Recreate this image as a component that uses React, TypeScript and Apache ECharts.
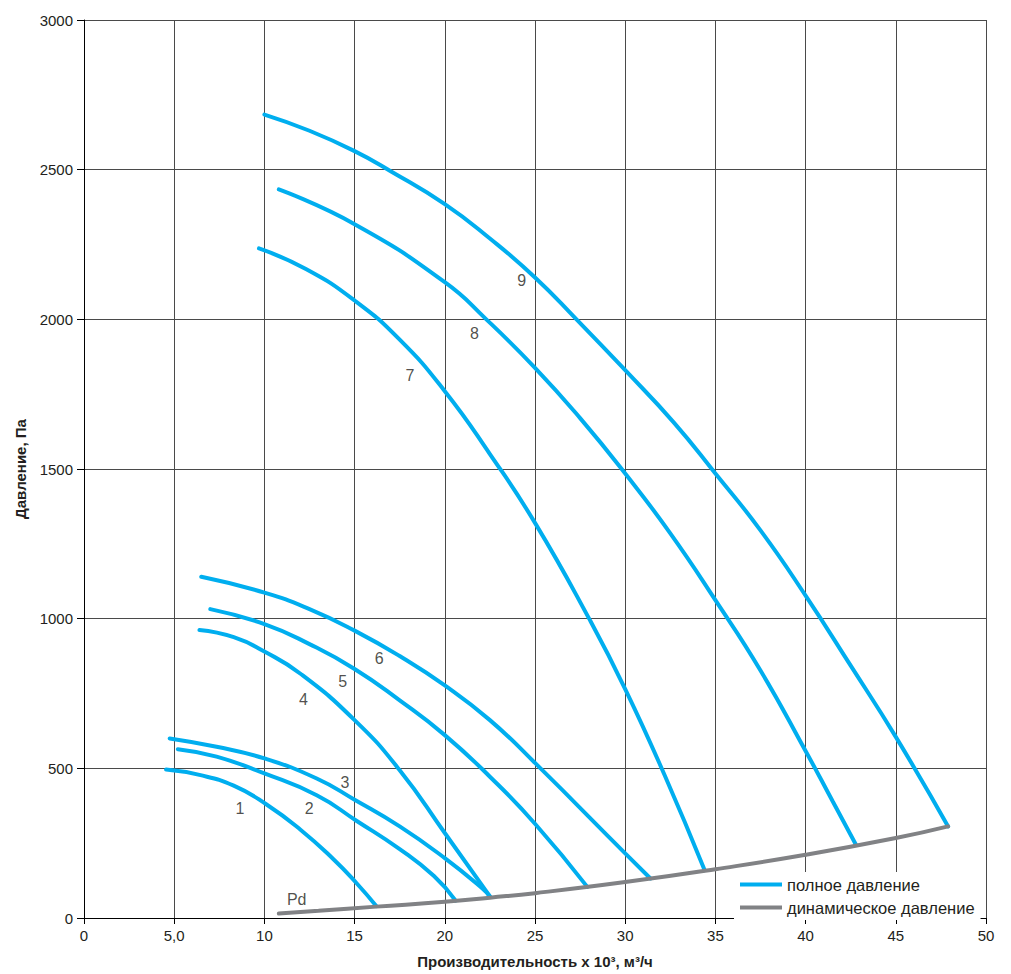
import React, { useEffect, useRef } from "react";
import * as echarts from "echarts";

// x: thousand m³/h, y: Pa
const curve1 = [[4.55, 496], [6.4, 478], [8.3, 442], [10.1, 380], [12.0, 295], [13.8, 198], [15.1, 117], [16.2, 40]];
const curve2 = [[5.2, 564], [7.35, 539], [10.0, 483], [12.9, 410], [15.1, 325], [17.5, 230], [19.4, 140], [20.6, 58]];
const curve3 = [[4.75, 600], [7.35, 572], [10.0, 533], [12.9, 466], [15.0, 395], [17.5, 306], [20.0, 200], [22.1, 98], [22.5, 72]];
const curve4 = [[6.4, 962], [8.3, 938], [10.0, 890], [12.0, 816], [15.0, 661], [17.5, 494], [20.0, 284], [22.5, 72]];
const curve5 = [[7.0, 1032], [10.0, 982], [12.5, 915], [15.0, 832], [17.5, 727], [20.0, 611], [22.5, 472], [25.0, 315], [27.9, 104]];
const curve6 = [[6.5, 1140], [10.0, 1087], [12.5, 1032], [15.0, 960], [17.5, 875], [20.0, 777], [22.5, 661], [25.0, 518], [30.0, 216], [31.4, 132]];
const curve7 = [[9.7, 2237], [12.3, 2168], [15.0, 2063], [17.5, 1932], [20.0, 1760], [22.5, 1550], [25.0, 1320], [28.0, 1000], [30.0, 765], [32.2, 475], [34.4, 160]];
const curve8 = [[10.8, 2434], [15.0, 2318], [20.0, 2124], [22.3, 2000], [25.0, 1838], [27.5, 1670], [30.0, 1485], [32.5, 1285], [35.0, 1062], [37.5, 827], [40.0, 558], [41.5, 390], [42.8, 244]];
const curve9 = [[10.0, 2684], [12.5, 2630], [15.0, 2562], [17.0, 2495], [20.0, 2385], [22.5, 2270], [25.0, 2140], [27.3, 2000], [30.0, 1830], [32.7, 1655], [35.0, 1485], [37.5, 1295], [40.0, 1077], [42.5, 843], [45.0, 605], [47.9, 306]];
const curvePd = [[10.8, 15], [13.0, 24], [16.2, 38], [20.0, 54], [22.5, 68], [25.0, 83], [30.0, 120], [35.0, 163], [40.0, 211], [45.0, 267], [47.9, 306]];

const fullCurves = [curve1, curve2, curve3, curve4, curve5, curve6, curve7, curve8, curve9];

const labelNames = ["1", "2", "3", "4", "5", "6", "7", "8", "9", "Pd"];
const labelX = [8.65, 12.49, 14.47, 12.16, 14.34, 16.37, 18.07, 21.64, 24.26, 11.79];
const labelY = [365, 365, 453, 729, 791, 868, 1811, 1952, 2129, 62];

const xTicks = { min: 0, max: 50, interval: 5 };
const yTicks = { min: 0, max: 3000, interval: 500 };

const seriesFullName = "полное давление";
const seriesDynName = "динамическое давление";
const xName = "Производительность x 10³, м³/ч";
const yName = "Давление, Па";

const BLUE = "#00aeef";
const GRAY = "#818285";
const TEXT = "#231f20";
const FONT = "'Liberation Sans', Arial, sans-serif";

export default function App() {
  const ref = useRef<HTMLDivElement>(null);
  useEffect(() => {
    document.body.style.margin = "0";
    if (!ref.current) return;
    const chart = echarts.init(ref.current, null, { renderer: "svg" });
    const series: any[] = fullCurves.map((c) => ({
      name: seriesFullName,
      type: "line",
      data: c,
      smooth: 0.5,
      symbol: "none",
      lineStyle: { color: BLUE, width: 4, cap: "round" },
      itemStyle: { color: BLUE },
      z: 3,
    }));
    series.push({
      name: seriesDynName,
      type: "line",
      data: curvePd,
      smooth: 0.5,
      symbol: "none",
      lineStyle: { color: GRAY, width: 4, cap: "round" },
      itemStyle: { color: GRAY },
      z: 4,
    });
    series.push({
      name: "labels",
      type: "scatter",
      silent: true,
      symbolSize: 1,
      itemStyle: { color: "rgba(0,0,0,0)" },
      data: labelNames.map((n, i) => ({ name: n, value: [labelX[i], labelY[i]] })),
      label: {
        show: true,
        position: "inside",
        formatter: (p: any) => p.name,
        fontSize: 16,
        fontFamily: FONT,
        color: TEXT,
      },
      z: 5,
    });
    chart.setOption({
      animation: false,
      backgroundColor: "#fff",
      textStyle: { fontFamily: FONT },
      grid: { left: 84, width: 902, top: 20, height: 902 },
      legend: {
        data: [seriesFullName, seriesDynName],
        orient: "vertical",
        left: 734,
        top: 872,
        padding: [4, 6, 4, 6],
        backgroundColor: "#fff",
        icon: "rect",
        itemWidth: 42,
        itemHeight: 4,
        itemGap: 6,
        selectedMode: false,
        textStyle: { fontSize: 16.5, lineHeight: 16, color: TEXT, fontFamily: FONT },
        z: 10,
      },
      xAxis: {
        type: "value",
        ...xTicks,
        name: xName,
        nameLocation: "middle",
        nameGap: 36,
        nameTextStyle: { fontSize: 15, fontWeight: "bold", color: TEXT, fontFamily: FONT },
        axisLine: { show: true, lineStyle: { color: "#000", width: 1 } },
        axisTick: { show: true, length: 6, lineStyle: { color: "#000" } },
        axisLabel: {
          fontSize: 15,
          color: TEXT,
          margin: 10,
          fontFamily: FONT,
          formatter: (v: number) => (v === 5 ? "5,0" : String(v)),
        },
        splitLine: { show: true, lineStyle: { color: "#4a4a4a", width: 1 } },
      },
      yAxis: {
        type: "value",
        ...yTicks,
        name: yName,
        nameLocation: "middle",
        nameGap: 56,
        nameRotate: 90,
        nameTextStyle: { fontSize: 15, fontWeight: "bold", color: TEXT, fontFamily: FONT },
        axisLine: { show: true, lineStyle: { color: "#000", width: 1 } },
        axisTick: { show: true, length: 7, lineStyle: { color: "#000" } },
        axisLabel: {
          fontSize: 15,
          color: TEXT,
          margin: 11,
          fontFamily: FONT,
          formatter: (v: number) => String(v),
        },
        splitLine: { show: true, lineStyle: { color: "#4a4a4a", width: 1 } },
      },
      series,
    });
    return () => chart.dispose();
  }, []);
  return (
    <div
      ref={ref}
      style={{ position: "absolute", left: 0, top: 0, width: 1011, height: 974 }}
    />
  );
}
